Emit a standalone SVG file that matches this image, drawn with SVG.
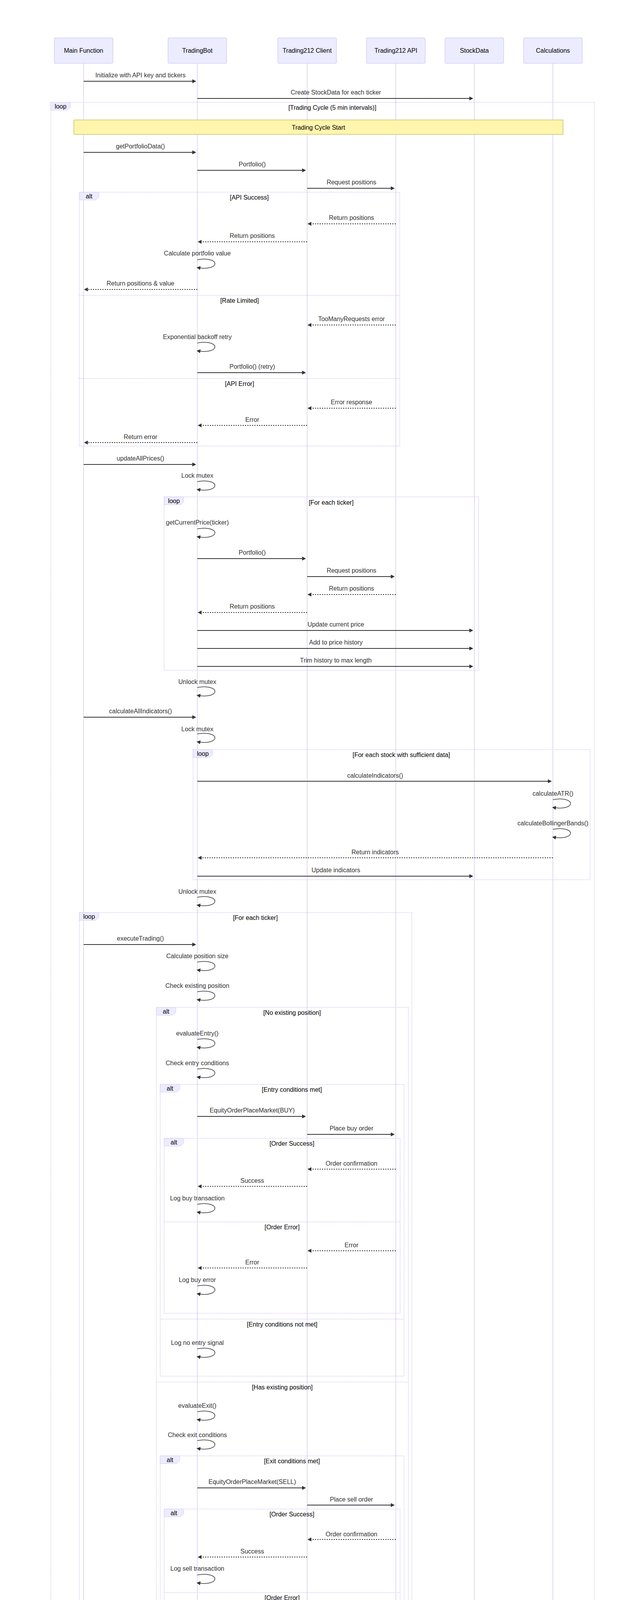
<svg xmlns="http://www.w3.org/2000/svg" width="1643" height="4986" viewBox="0 0 1643 4986">
<style>
.actor{fill:#ECECFF;stroke:#D8CCF2;stroke-width:1.5}
.at{font-family:"Liberation Sans",Arial,sans-serif;font-size:16px;fill:#000;text-anchor:middle;dominant-baseline:central}
.life{stroke:#D8CCF2;stroke-width:1.5}
.msg{stroke:#333;stroke-width:2;fill:none;marker-end:url(#arrowhead)}
.dash{stroke-dasharray:3,3}
.self{stroke:#333;stroke-width:1.5;fill:none;marker-end:url(#arrowhead)}
.mt{font-family:"Liberation Sans",Arial,sans-serif;font-size:16px;fill:#333;text-anchor:middle;dominant-baseline:central}
.frame{fill:none;stroke:#D8CCF2;stroke-width:2;stroke-dasharray:2,2}
.lbox{fill:#ECECFF;stroke:#D8CCF2;stroke-width:1}
.lt{font-family:"Liberation Sans",Arial,sans-serif;font-size:16px;fill:#000;text-anchor:middle;dominant-baseline:central}
.note{fill:#FFF5AD;stroke:#AAAA33;stroke-width:1}
</style>
<defs>
<marker id="arrowhead" refX="7.9" refY="5" markerUnits="userSpaceOnUse" markerWidth="12" markerHeight="12" orient="auto"><path d="M 0 0 L 10 5 L 0 10 z" fill="#333"/></marker>
</defs>
<rect width="1643" height="4986" fill="#fff"/>

<g id="lifelines">
<line class="life" x1="214" y1="162" x2="214" y2="4823"/>
<line class="life" x1="505" y1="162" x2="505" y2="4823"/>
<line class="life" x1="786" y1="162" x2="786" y2="4823"/>
<line class="life" x1="1013" y1="162" x2="1013" y2="4823"/>
<line class="life" x1="1214" y1="162" x2="1214" y2="4823"/>
<line class="life" x1="1415" y1="162" x2="1415" y2="4823"/>
</g>

<g id="actor-main">
<rect class="actor" x="139" y="97" width="150" height="65" rx="3"/><text class="at" x="214" y="129.5">Main Function</text>
<rect class="actor" x="139" y="4823" width="150" height="65" rx="3"/><text class="at" x="214" y="4855.5">Main Function</text>
</g>
<g id="actor-tradingbot">
<rect class="actor" x="430" y="97" width="150" height="65" rx="3"/><text class="at" x="505" y="129.5">TradingBot</text>
<rect class="actor" x="430" y="4823" width="150" height="65" rx="3"/><text class="at" x="505" y="4855.5">TradingBot</text>
</g>
<g id="actor-client">
<rect class="actor" x="711" y="97" width="150" height="65" rx="3"/><text class="at" x="786" y="129.5">Trading212 Client</text>
<rect class="actor" x="711" y="4823" width="150" height="65" rx="3"/><text class="at" x="786" y="4855.5">Trading212 Client</text>
</g>
<g id="actor-api">
<rect class="actor" x="938" y="97" width="150" height="65" rx="3"/><text class="at" x="1013" y="129.5">Trading212 API</text>
<rect class="actor" x="938" y="4823" width="150" height="65" rx="3"/><text class="at" x="1013" y="4855.5">Trading212 API</text>
</g>
<g id="actor-stockdata">
<rect class="actor" x="1139" y="97" width="150" height="65" rx="3"/><text class="at" x="1214" y="129.5">StockData</text>
<rect class="actor" x="1139" y="4823" width="150" height="65" rx="3"/><text class="at" x="1214" y="4855.5">StockData</text>
</g>
<g id="actor-calculations">
<rect class="actor" x="1340" y="97" width="150" height="65" rx="3"/><text class="at" x="1415" y="129.5">Calculations</text>
<rect class="actor" x="1340" y="4823" width="150" height="65" rx="3"/><text class="at" x="1415" y="4855.5">Calculations</text>
</g>

<g id="frames">
<g id="loop-trading-cycle">
<rect class="frame" x="130" y="262" width="1391" height="4542"/>
<polygon class="lbox" points="130,262 180,262 180,275 171.6,282 130,282"/><text class="lt" x="155" y="272">loop</text>
<text class="lt" x="850.5" y="275">[Trading Cycle (5 min intervals)]</text>
</g>
<g id="alt-api">
<rect class="frame" x="203" y="492" width="820" height="650"/>
<polygon class="lbox" points="203,492 253,492 253,505 244.6,512 203,512"/><text class="lt" x="228" y="502">alt</text>
<text class="lt" x="638" y="505">[API Success]</text>
<line class="frame" x1="203" y1="756" x2="1023" y2="756"/><text class="lt" x="613" y="769">[Rate Limited]</text>
<line class="frame" x1="203" y1="969" x2="1023" y2="969"/><text class="lt" x="613" y="982">[API Error]</text>
</g>
<g id="loop-prices">
<rect class="frame" x="420" y="1272" width="805" height="444"/>
<polygon class="lbox" points="420,1272 470,1272 470,1285 461.6,1292 420,1292"/><text class="lt" x="445" y="1282">loop</text>
<text class="lt" x="847.5" y="1286">[For each ticker]</text>
</g>
<g id="loop-indicators">
<rect class="frame" x="494" y="1919" width="1016" height="333"/>
<polygon class="lbox" points="494,1919 544,1919 544,1932 535.6,1939 494,1939"/><text class="lt" x="519" y="1929">loop</text>
<text class="lt" x="1027" y="1932">[For each stock with sufficient data]</text>
</g>
<g id="loop-trading">
<rect class="frame" x="203" y="2336" width="851" height="2156"/>
<polygon class="lbox" points="203,2336 253,2336 253,2349 244.6,2356 203,2356"/><text class="lt" x="228" y="2346">loop</text>
<text class="lt" x="653.5" y="2349">[For each ticker]</text>
</g>
<g id="alt-position">
<rect class="frame" x="400" y="2579" width="645" height="1903"/>
<polygon class="lbox" points="400,2579 450,2579 450,2592 441.6,2599 400,2599"/><text class="lt" x="425" y="2589">alt</text>
<text class="lt" x="747.5" y="2592">[No existing position]</text>
<line class="frame" x1="400" y1="3538" x2="1045" y2="3538"/><text class="lt" x="722.5" y="3551">[Has existing position]</text>
</g>
<g id="alt-entry">
<rect class="frame" x="410" y="2776" width="624" height="747"/>
<polygon class="lbox" points="410,2776 460,2776 460,2789 451.6,2796 410,2796"/><text class="lt" x="435" y="2786">alt</text>
<text class="lt" x="747" y="2789">[Entry conditions met]</text>
<line class="frame" x1="410" y1="3377" x2="1034" y2="3377"/><text class="lt" x="722" y="3390">[Entry conditions not met]</text>
</g>
<g id="alt-buy-order">
<rect class="frame" x="420" y="2914" width="604" height="448"/>
<polygon class="lbox" points="420,2914 470,2914 470,2927 461.6,2934 420,2934"/><text class="lt" x="445" y="2924">alt</text>
<text class="lt" x="747" y="2927">[Order Success]</text>
<line class="frame" x1="420" y1="3128" x2="1024" y2="3128"/><text class="lt" x="722" y="3141">[Order Error]</text>
</g>
<g id="alt-exit">
<rect class="frame" x="410" y="3727" width="624" height="745"/>
<polygon class="lbox" points="410,3727 460,3727 460,3740 451.6,3747 410,3747"/><text class="lt" x="435" y="3737">alt</text>
<text class="lt" x="747" y="3740">[Exit conditions met]</text>
<line class="frame" x1="410" y1="4325" x2="1034" y2="4325"/><text class="lt" x="722" y="4338">[Exit conditions not met]</text>
</g>
<g id="alt-sell-order">
<rect class="frame" x="420" y="3863" width="604" height="448"/>
<polygon class="lbox" points="420,3863 470,3863 470,3876 461.6,3883 420,3883"/><text class="lt" x="445" y="3873">alt</text>
<text class="lt" x="747" y="3876">[Order Success]</text>
<line class="frame" x1="420" y1="4077" x2="1024" y2="4077"/><text class="lt" x="722" y="4090">[Order Error]</text>
</g>
</g>

<g id="note-trading-cycle-start">
<rect class="note" x="189" y="307" width="1252" height="37"/>
<text class="lt" x="815" y="326">Trading Cycle Start</text>
</g>

<g id="connectors">
<line class="msg" x1="214" y1="208" x2="500" y2="208"/><text class="mt" x="359.5" y="192">Initialize with API key and tickers</text>
<line class="msg" x1="505" y1="252" x2="1209" y2="252"/><text class="mt" x="859.5" y="236">Create StockData for each ticker</text>
<line class="msg" x1="214" y1="390" x2="500" y2="390"/><text class="mt" x="359.5" y="374">getPortfolioData()</text>
<line class="msg" x1="505" y1="436" x2="781" y2="436"/><text class="mt" x="645.5" y="420">Portfolio()</text>
<line class="msg" x1="786" y1="482" x2="1008" y2="482"/><text class="mt" x="899.5" y="466">Request positions</text>
<line class="msg dash" x1="1013" y1="573" x2="789" y2="573"/><text class="mt" x="899.5" y="557">Return positions</text>
<line class="msg dash" x1="786" y1="619" x2="508" y2="619"/><text class="mt" x="645.5" y="603">Return positions</text>
<path class="self" d="M 505,665 C 565,655 565,695 505,685"/><text class="mt" x="505" y="648">Calculate portfolio value</text>
<line class="msg dash" x1="505" y1="741" x2="217" y2="741"/><text class="mt" x="359.5" y="725">Return positions &amp; value</text>
<line class="msg dash" x1="1013" y1="832" x2="789" y2="832"/><text class="mt" x="899.5" y="816">TooManyRequests error</text>
<path class="self" d="M 505,878 C 565,868 565,908 505,898"/><text class="mt" x="505" y="862">Exponential backoff retry</text>
<line class="msg" x1="505" y1="954" x2="781" y2="954"/><text class="mt" x="645.5" y="938">Portfolio() (retry)</text>
<line class="msg dash" x1="1013" y1="1045" x2="789" y2="1045"/><text class="mt" x="899.5" y="1029">Error response</text>
<line class="msg dash" x1="786" y1="1089" x2="508" y2="1089"/><text class="mt" x="645.5" y="1074">Error</text>
<line class="msg dash" x1="505" y1="1133" x2="217" y2="1133"/><text class="mt" x="359.5" y="1118">Return error</text>
<line class="msg" x1="214" y1="1189" x2="500" y2="1189"/><text class="mt" x="359.5" y="1173">updateAllPrices()</text>
<path class="self" d="M 505,1233 C 565,1223 565,1263 505,1253"/><text class="mt" x="505" y="1217">Lock mutex</text>
<path class="self" d="M 505,1354 C 565,1344 565,1384 505,1374"/><text class="mt" x="505" y="1337">getCurrentPrice(ticker)</text>
<line class="msg" x1="505" y1="1430" x2="781" y2="1430"/><text class="mt" x="645.5" y="1414">Portfolio()</text>
<line class="msg" x1="786" y1="1476" x2="1008" y2="1476"/><text class="mt" x="899.5" y="1460">Request positions</text>
<line class="msg dash" x1="1013" y1="1522" x2="789" y2="1522"/><text class="mt" x="899.5" y="1506">Return positions</text>
<line class="msg dash" x1="786" y1="1568" x2="508" y2="1568"/><text class="mt" x="645.5" y="1552">Return positions</text>
<line class="msg" x1="505" y1="1614" x2="1209" y2="1614"/><text class="mt" x="859.5" y="1598">Update current price</text>
<line class="msg" x1="505" y1="1660" x2="1209" y2="1660"/><text class="mt" x="859.5" y="1644">Add to price history</text>
<line class="msg" x1="505" y1="1706" x2="1209" y2="1706"/><text class="mt" x="859.5" y="1690">Trim history to max length</text>
<path class="self" d="M 505,1760 C 565,1750 565,1790 505,1780"/><text class="mt" x="505" y="1745">Unlock mutex</text>
<line class="msg" x1="214" y1="1836" x2="500" y2="1836"/><text class="mt" x="359.5" y="1820">calculateAllIndicators()</text>
<path class="self" d="M 505,1879 C 565,1869 565,1909 505,1899"/><text class="mt" x="505" y="1866">Lock mutex</text>
<line class="msg" x1="505" y1="2000" x2="1410" y2="2000"/><text class="mt" x="960" y="1985">calculateIndicators()</text>
<path class="self" d="M 1415,2047 C 1475,2037 1475,2077 1415,2067"/><text class="mt" x="1415" y="2031">calculateATR()</text>
<path class="self" d="M 1415,2123 C 1475,2113 1475,2153 1415,2143"/><text class="mt" x="1415" y="2107">calculateBollingerBands()</text>
<line class="msg dash" x1="1415" y1="2196" x2="508" y2="2196"/><text class="mt" x="960" y="2181">Return indicators</text>
<line class="msg" x1="505" y1="2243" x2="1209" y2="2243"/><text class="mt" x="859.5" y="2227">Update indicators</text>
<path class="self" d="M 505,2297 C 565,2287 565,2327 505,2317"/><text class="mt" x="505" y="2282">Unlock mutex</text>
<line class="msg" x1="214" y1="2418" x2="500" y2="2418"/><text class="mt" x="359.5" y="2402">executeTrading()</text>
<path class="self" d="M 505,2463 C 565,2453 565,2493 505,2483"/><text class="mt" x="505" y="2447">Calculate position size</text>
<path class="self" d="M 505,2539 C 565,2529 565,2569 505,2559"/><text class="mt" x="505" y="2523">Check existing position</text>
<path class="self" d="M 505,2661 C 565,2651 565,2691 505,2681"/><text class="mt" x="505" y="2645">evaluateEntry()</text>
<path class="self" d="M 505,2737 C 565,2727 565,2767 505,2757"/><text class="mt" x="505" y="2721">Check entry conditions</text>
<line class="msg" x1="505" y1="2858" x2="781" y2="2858"/><text class="mt" x="645.5" y="2842">EquityOrderPlaceMarket(BUY)</text>
<line class="msg" x1="786" y1="2904" x2="1008" y2="2904"/><text class="mt" x="899.5" y="2888">Place buy order</text>
<line class="msg dash" x1="1013" y1="2993" x2="789" y2="2993"/><text class="mt" x="899.5" y="2978">Order confirmation</text>
<line class="msg dash" x1="786" y1="3037" x2="508" y2="3037"/><text class="mt" x="645.5" y="3022">Success</text>
<path class="self" d="M 505,3083 C 565,3073 565,3113 505,3103"/><text class="mt" x="505" y="3067">Log buy transaction</text>
<line class="msg dash" x1="1013" y1="3202" x2="789" y2="3202"/><text class="mt" x="899.5" y="3187">Error</text>
<line class="msg dash" x1="786" y1="3246" x2="508" y2="3246"/><text class="mt" x="645.5" y="3231">Error</text>
<path class="self" d="M 505,3292 C 565,3282 565,3322 505,3312"/><text class="mt" x="505" y="3276">Log buy error</text>
<path class="self" d="M 505,3453 C 565,3443 565,3483 505,3473"/><text class="mt" x="505" y="3437">Log no entry signal</text>
<path class="self" d="M 505,3614 C 565,3604 565,3644 505,3634"/><text class="mt" x="505" y="3598">evaluateExit()</text>
<path class="self" d="M 505,3688 C 565,3678 565,3718 505,3708"/><text class="mt" x="505" y="3673">Check exit conditions</text>
<line class="msg" x1="505" y1="3809" x2="781" y2="3809"/><text class="mt" x="645.5" y="3793">EquityOrderPlaceMarket(SELL)</text>
<line class="msg" x1="786" y1="3853" x2="1008" y2="3853"/><text class="mt" x="899.5" y="3838">Place sell order</text>
<line class="msg dash" x1="1013" y1="3941" x2="789" y2="3941"/><text class="mt" x="899.5" y="3927">Order confirmation</text>
<line class="msg dash" x1="786" y1="3986" x2="508" y2="3986"/><text class="mt" x="645.5" y="3971">Success</text>
<path class="self" d="M 505,4032 C 565,4022 565,4062 505,4052"/><text class="mt" x="505" y="4015">Log sell transaction</text>
<line class="msg dash" x1="1013" y1="4151" x2="789" y2="4151"/><text class="mt" x="899.5" y="4135">Error</text>
<line class="msg dash" x1="786" y1="4194" x2="508" y2="4194"/><text class="mt" x="645.5" y="4180">Error</text>
<path class="self" d="M 505,4241 C 565,4231 565,4271 505,4261"/><text class="mt" x="505" y="4224">Log sell error</text>
<path class="self" d="M 505,4402 C 565,4392 565,4432 505,4422"/><text class="mt" x="505" y="4386">Log holding position</text>
<line class="msg" x1="214" y1="4538" x2="500" y2="4538"/><text class="mt" x="359.5" y="4522">displayPortfolioSummary()</text>
<path class="self" d="M 505,4581 C 565,4571 565,4611 505,4601"/><text class="mt" x="505" y="4567">Calculate total P&amp;L</text>
<path class="self" d="M 505,4658 C 565,4648 565,4688 505,4678"/><text class="mt" x="505" y="4642">Log portfolio summary</text>
<path class="self" d="M 214,4734 C 274,4724 274,4764 214,4754"/><text class="mt" x="214" y="4717">Sleep 5 minutes</text>
</g>
</svg>
